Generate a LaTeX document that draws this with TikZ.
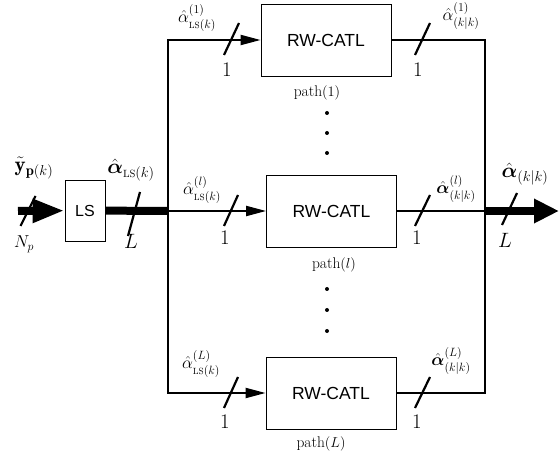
\documentclass[tikz,border=0pt]{standalone}
\usepackage{fontspec}
\usepackage{amsmath,amssymb}
\usepackage{tikz}
\usetikzlibrary{arrows.meta}
\newfontfamily\blockfont{Liberation Sans}

\begin{document}
\begin{tikzpicture}[x=1pt, y=-1pt,
    block/.style={rectangle, draw, line width=0.8pt, inner sep=0pt,
      minimum width=130pt, minimum height=72pt,
      font=\blockfont\fontsize{17.5}{20}\selectfont},
    lsblock/.style={rectangle, draw, line width=0.8pt, inner sep=0pt,
      minimum width=40pt, minimum height=61pt,
      font=\blockfont\fontsize{16}{18}\selectfont},
    branch/.style={line width=2pt},
    bus/.style={line width=2.5pt, line cap=rect},
    fat/.style={line width=8pt},
    slash/.style={line width=2.2pt},
    width label/.style={inner sep=0pt, font=\fontsize{20}{24}\selectfont},
    sig label/.style={inner sep=0pt, font=\fontsize{21}{24}\selectfont},
    sub label/.style={inner sep=0pt, font=\fontsize{18}{20}\selectfont},
    path label/.style={inner sep=0pt, font=\fontsize{15.5}{18}\selectfont}]

  \useasboundingbox (0,0) rectangle (560,465);

  % blocks
  \node (ls) [lsblock] at (85,210.5) {LS};
  \node (cat1) [block] at (326,40) {RW-CATL};
  \node (catl) [block] at (331.5,211) {RW-CATL};
  \node (catL) [block] at (331,393) {RW-CATL};

  \node (p1) [path label] at (317,93) {$\mathrm{path}(1)$};
  \node (pl) [path label] at (334,265) {$\mathrm{path}(l)$};
  \node (pL) [path label] at (321,444) {$\mathrm{path}(L)$};

  % split and join points
  \coordinate (in) at (18,211);
  \coordinate (splitT) at (168,40);
  \coordinate (splitM) at (168,211);
  \coordinate (splitB) at (168,393);
  \coordinate (joinT) at (485,40);
  \coordinate (joinM) at (485,211);
  \coordinate (joinB) at (485,393);
  \coordinate (out) at (559,211);

  % connectors
  \draw[fat, -{Triangle[length=32pt, width=22pt]}] (in) -- (ls);
  \draw[fat] (ls) -- (splitM);
  \draw[bus] (splitT) -- (splitB);
  \draw[branch, -{Triangle[length=20pt, width=10pt]}] (splitT) -- (cat1);
  \draw[branch, -{Triangle[length=20pt, width=10pt]}] (splitM) -- (catl);
  \draw[branch, -{Triangle[length=20pt, width=10pt]}] (splitB) -- (catL);
  \draw[branch] (cat1) -- (joinT);
  \draw[branch] (catl) -- (joinM);
  \draw[branch] (catL) -- (joinB);
  \draw[bus] (joinT) -- (joinB);
  \draw[fat, -{Triangle[length=25pt, width=23pt]}] (joinM) -- (out);

  % bus width marks
  \draw[slash] (20.5,226) -- (35.5,196);
  \draw[slash] (128,236) -- (140,192);
  \draw[slash] (502,225) -- (517,193);
  \draw[slash] (224,55) -- (239,23);
  \draw[slash] (224,226) -- (238,195);
  \draw[slash] (224,408) -- (238,377);
  \draw[slash] (415,55) -- (430,23);
  \draw[slash] (415,226) -- (430,195);
  \draw[slash] (415,408) -- (430,377);

  \node (wIn) [sub label] at (24,244) {$N_p$};
  \node (wLs) [width label] at (131,241) {$L$};
  \node (wOut) [width label] at (505,240) {$L$};
  \node (w1a) [width label] at (227,70) {$1$};
  \node (wla) [width label] at (225,238) {$1$};
  \node (wLa) [width label] at (225,422) {$1$};
  \node (w1b) [width label] at (418,70) {$1$};
  \node (wlb) [width label] at (417,238) {$1$};
  \node (wLb) [width label] at (417,422) {$1$};

  % signal names
  \node (sIn) [sig label] at (34,168) {$\tilde{\mathbf{y}}_{\mathbf{p}(k)}$};
  \node (sLs) [sig label] at (131,170) {$\hat{\boldsymbol{\alpha}}_{{\scriptscriptstyle\mathrm{LS}}(k)}$};
  \node (sOut) [sig label] at (525,174) {$\hat{\boldsymbol{\alpha}}_{(k|k)}$};
  \node (s1a) [sub label] at (197,18) {$\hat{\alpha}^{(1)}_{{\scriptscriptstyle\mathrm{LS}}(k)}$};
  \node (sla) [sub label] at (202,190) {$\hat{\alpha}^{(l)}_{{\scriptscriptstyle\mathrm{LS}}(k)}$};
  \node (sLa) [sub label] at (201,364) {$\hat{\alpha}^{(L)}_{{\scriptscriptstyle\mathrm{LS}}(k)}$};
  \node (s1b) [sub label] at (461,16) {$\hat{\alpha}^{(1)}_{(k|k)}$};
  \node (slb) [sub label] at (456,189) {$\hat{\boldsymbol{\alpha}}^{(l)}_{(k|k)}$};
  \node (sLb) [sub label] at (451,361) {$\hat{\boldsymbol{\alpha}}^{(L)}_{(k|k)}$};

  % dots between paths
  \foreach \y in {113,133,153,289,310,331}
    \fill (327,\y) circle (2pt);
\end{tikzpicture}
\end{document}
